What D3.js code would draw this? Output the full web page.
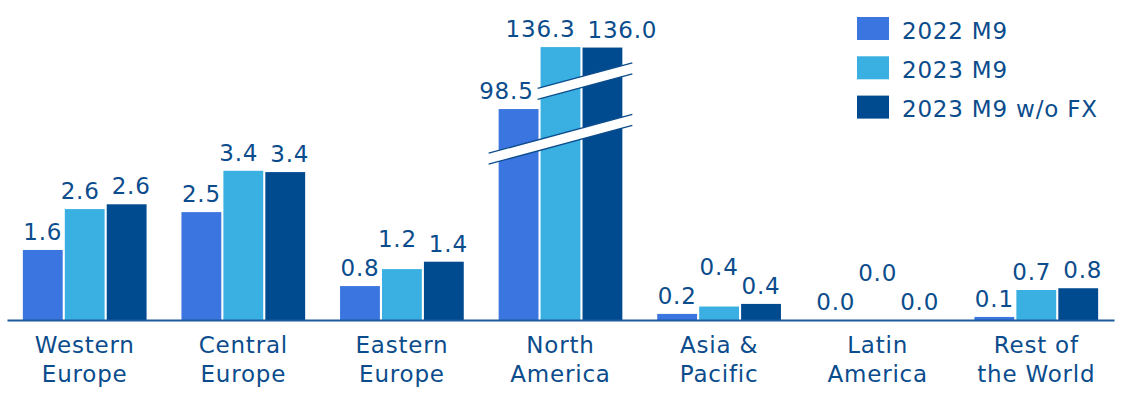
<!DOCTYPE html>
<html>
<head>
<meta charset="utf-8">
<script src="https://cdn.jsdelivr.net/npm/d3@7"></script>
<style>
  body { margin: 0; background: #fff; }
  svg text { font-family: "DejaVu Sans", Verdana, sans-serif; fill: #0b4c8c; letter-spacing: 0.8px; }
</style>
</head>
<body>
<svg id="chart"></svg>
<script>
// data
const categoryLines = [["Western", "Europe"], ["Central", "Europe"], ["Eastern", "Europe"],
  ["North", "America"], ["Asia &", "Pacific"], ["Latin", "America"], ["Rest of", "the World"]];
const series = ["2022 M9", "2023 M9", "2023 M9 w/o FX"];
const values2022 = [1.61, 2.48, 0.78, 98.5, 0.14, 0, 0.07];
const values2023 = [2.55, 3.43, 1.17, 136.3, 0.31, 0, 0.69];
const values2023noFx = [2.66, 3.40, 1.34, 136.0, 0.37, 0, 0.73];
const labels2022 = ["1.6", "2.5", "0.8", "98.5", "0.2", "0.0", "0.1"];
const labels2023 = ["2.6", "3.4", "1.2", "136.3", "0.4", "0.0", "0.7"];
const labels2023noFx = ["2.6", "3.4", "1.4", "136.0", "0.4", "0.0", "0.8"];
const brokenCategory = "North America";
const colors = ["#3b75e0", "#3ab0e2", "#004a8f"];

class GroupedBarChart {

  constructor(_config) {
    this.config = {
      parentElement: _config.parentElement,
      containerWidth: _config.containerWidth || 1127,
      containerHeight: _config.containerHeight || 398,
      baseline: 320,
      fontSize: 23
    }
    this.categories = categoryLines.map(l => l.join(" "));
    this.valueSets = [values2022, values2023, values2023noFx];
    this.labelSets = [labels2022, labels2023, labels2023noFx];
    this.initVis();
  }

  initVis() {
    let vis = this;
    const base = vis.config.baseline;

    vis.svg = d3.select(vis.config.parentElement)
      .attr('width', vis.config.containerWidth)
      .attr('height', vis.config.containerHeight);

    vis.xScale = d3.scaleBand()
      .domain(vis.categories)
      .range([7, 1114])
      .paddingInner(0.22)
      .paddingOuter(0.1);

    vis.xInner = d3.scaleBand()
      .domain(series)
      .range([0, vis.xScale.bandwidth()])
      .paddingInner(0.05);

    vis.yScale = d3.scaleLinear()
      .domain([0, 4])
      .range([base, base - 4 * 43.5]);

    // broken axis: North America drawn on a compressed scale
    vis.yBroken = d3.scaleLinear()
      .domain([0, 140])
      .range([270.6, 41]);

    vis.renderVis();
  }

  renderVis() {
    let vis = this;
    const base = vis.config.baseline;
    const fs = vis.config.fontSize;

    const barData = [];
    vis.categories.forEach((c, i) => {
      series.forEach((s, j) => {
        barData.push({cat: c, series: s, j: j, value: vis.valueSets[j][i], label: vis.labelSets[j][i]});
      });
    });
    const topOf = d => d.cat === brokenCategory ? vis.yBroken(d.value) : vis.yScale(d.value);

    vis.svg.append('g').selectAll('rect')
      .data(barData)
      .join('rect')
      .attr('x', d => vis.xScale(d.cat) + vis.xInner(d.series))
      .attr('y', d => topOf(d))
      .attr('width', vis.xInner.bandwidth())
      .attr('height', d => base - topOf(d))
      .style('fill', d => colors[d.j]);

    // break marks
    const bx = vis.xScale(brokenCategory);
    const bw = vis.xScale.bandwidth();
    const xm = bx + bw / 2;
    const breaks = [
      {value: 80.1, x0: bx - 10, x1: bx + bw + 10},
      {value: 111.5, x0: bx + vis.xInner(series[1]) - 3, x1: bx + bw + 10}
    ];
    const slope = 0.27, half = 5.5;
    const brk = vis.svg.append('g');
    breaks.forEach(b => {
      const yc = vis.yBroken(b.value);
      const yAt = x => yc - slope * (x - xm);
      brk.append('polygon')
        .attr('points', [[b.x0, yAt(b.x0) - half], [b.x1, yAt(b.x1) - half],
          [b.x1, yAt(b.x1) + half], [b.x0, yAt(b.x0) + half]].join(' '))
        .style('fill', '#fff');
      [-half, half].forEach(o => {
        brk.append('line')
          .attr('x1', b.x0).attr('y1', yAt(b.x0) + o)
          .attr('x2', b.x1).attr('y2', yAt(b.x1) + o)
          .style('stroke', '#0b4c8c')
          .style('stroke-width', 1.4);
      });
    });

    // value labels
    const labelG = vis.svg.append('g');
    vis.categories.forEach(c => {
      const labs = barData.filter(d => d.cat === c).map(d => {
        const t = labelG.append('text')
          .attr('text-anchor', 'middle')
          .style('font-size', fs + 'px')
          .text(d.label);
        return {t: t, cx: vis.xScale(c) + vis.xInner(d.series) + vis.xInner.bandwidth() / 2,
          y: topOf(d) - 10, w: t.node().getComputedTextLength()};
      });
      // lift the middle label above the left one if they would clash
      if (labs[1].y > labs[0].y - 20) labs[1].y = labs[0].y - 29;
      // push apart neighbours sitting at the same height
      [[1, 2], [0, 1]].forEach(([a, b]) => {
        const A = labs[a], B = labs[b];
        if (Math.abs(A.y - B.y) < 18) {
          const overlap = (A.cx + A.w / 2 + 12) - (B.cx - B.w / 2);
          if (overlap > 0) { A.cx -= overlap / 2; B.cx += overlap / 2; }
        }
      });
      if (c === brokenCategory) {
        labs[0].cx = Math.min(labs[0].cx, breaks[1].x0 - 4 - labs[0].w / 2);
      }
      labs.forEach(l => l.t.attr('x', l.cx).attr('y', l.y));
    });

    // x axis
    const axis = vis.svg.append('g')
      .attr('transform', `translate(0, ${base})`)
      .call(d3.axisBottom(vis.xScale).tickSize(0).tickSizeOuter(0).tickFormat(''));
    axis.select('.domain')
      .style('stroke', '#1c5a9c')
      .style('stroke-width', 2);
    axis.selectAll('.tick text').remove();
    axis.selectAll('.tick').each(function(d, i) {
      const t = d3.select(this).append('text')
        .attr('text-anchor', 'middle')
        .style('font-size', fs + 'px');
      categoryLines[i].forEach((line, k) => {
        t.append('tspan').attr('x', 0).attr('y', 33 + k * 29).text(line);
      });
    });

    // legend
    const legend = vis.svg.append('g').attr('transform', 'translate(857, 17)');
    series.forEach((s, j) => {
      const row = legend.append('g').attr('transform', `translate(0, ${j * 39.3})`);
      row.append('rect')
        .attr('width', 32).attr('height', 23)
        .style('fill', colors[j]);
      row.append('text')
        .attr('x', 45).attr('y', 21.5)
        .style('font-size', fs + 'px')
        .text(s);
    });
  }
}

new GroupedBarChart({parentElement: '#chart'});
</script>
</body>
</html>
